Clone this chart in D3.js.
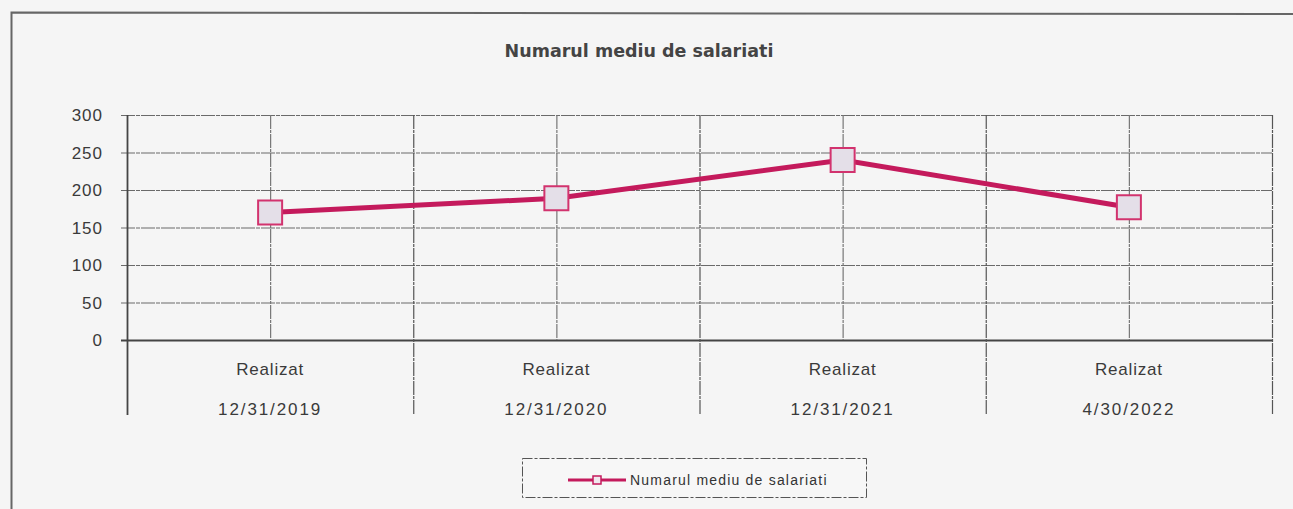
<!DOCTYPE html>
<html>
<head>
<meta charset="utf-8">
<script src="https://cdn.jsdelivr.net/npm/d3@7"></script>
<style>
body { margin: 0; background: #f5f5f5; }
svg { display: block; font-family: "Liberation Sans", Arial, sans-serif; }
</style>
</head>
<body>
<svg id="mainsvg" width="1293" height="509"></svg>
<script>
var categories = ['12/31/2019', '12/31/2020', '12/31/2021', '4/30/2022'];
var catPrefix = 'Realizat';
var values = [170, 189, 240, 177];
var yTicks = [0, 50, 100, 150, 200, 250, 300];
var chartTitle = 'Numarul mediu de salariati';
var seriesName = 'Numarul mediu de salariati';

var svg = d3.select('#mainsvg');
// 'top' is reserved on window, so use plot* names
var plotLeft = 127, plotRight = 1272, plotTop = 115, plotBottom = 340;

// outer frame (scanned, only top and left visible)
svg.append('path')
	.attr('d', 'M11.5,509 L11.5,12.5 L1293,14')
	.attr('stroke', '#666').attr('stroke-width', 2).attr('fill', 'none');

var x = d3.scaleBand().domain(categories).range([plotLeft, plotRight]).padding(0);
var y = d3.scaleLinear().domain([0, 300]).range([plotBottom, plotTop]);

// horizontal gridlines
svg.append('g').selectAll('line')
	.data(yTicks)
	.enter()
	.append('line')
	.attr('x1', plotLeft - 6).attr('x2', plotRight)
	.attr('y1', function(d) {return y(d) + 0.5;})
	.attr('y2', function(d) {return y(d) + 0.5;})
	.attr('stroke', function(d) {return d == 0 ? '#444' : '#6a6a6a';})
	.attr('stroke-width', function(d) {return d == 0 ? 1.8 : 1.2;})
	.attr('stroke-dasharray', function(d) {return d == 0 ? null : '14,1,4,1';});

// vertical gridlines at boundaries and centers
var vx = [];
categories.forEach(function(c, i) {
	vx.push({x: x(c), edge: true});
	vx.push({x: x(c) + x.bandwidth() / 2, edge: false});
});
vx.push({x: plotRight, edge: true});
svg.append('g').selectAll('line')
	.data(vx)
	.enter()
	.append('line')
	.attr('x1', function(d) {return d.x + 0.5;})
	.attr('x2', function(d) {return d.x + 0.5;})
	.attr('y1', plotTop)
	.attr('y2', function(d) {return d.edge ? 415 : plotBottom;})
	.attr('stroke', function(d) {return d.x == plotLeft ? '#444' : (d.edge ? '#555' : '#777');})
	.attr('stroke-width', function(d) {return d.x == plotLeft ? 1.8 : 1.2;})
	.attr('stroke-dasharray', function(d) {return d.x == plotLeft ? null : '14,1,3,1';});

// y axis labels
svg.append('g').selectAll('text')
	.data(yTicks)
	.enter()
	.append('text')
	.attr('x', 103)
	.attr('y', function(d) {return y(d) + 6;})
	.attr('text-anchor', 'end')
	.attr('font-size', 17)
	.attr('letter-spacing', 1)
	.attr('fill', '#3a3a3a')
	.text(function(d) {return d;});

// category labels
var cat = svg.append('g').selectAll('g')
	.data(categories)
	.enter()
	.append('g')
	.attr('transform', function(d) {return 'translate(' + (x(d) + x.bandwidth() / 2) + ',0)';});
cat.append('text')
	.attr('y', 375)
	.attr('text-anchor', 'middle')
	.attr('font-size', 17)
	.attr('letter-spacing', 0.8)
	.attr('fill', '#3a3a3a')
	.text(catPrefix);
cat.append('text')
	.attr('y', 415)
	.attr('text-anchor', 'middle')
	.attr('font-size', 17)
	.attr('letter-spacing', 1.9)
	.attr('fill', '#3a3a3a')
	.text(function(d) {return d;});

// title
svg.append('text')
	.attr('x', 639).attr('y', 57)
	.attr('text-anchor', 'middle')
	.attr('font-family', '"DejaVu Sans", sans-serif')
	.attr('font-size', 17.5)
	.attr('font-weight', 'bold')
	.attr('fill', '#444')
	.text(chartTitle);

// series line
var line = d3.line()
	.x(function(d, i) {return x(categories[i]) + x.bandwidth() / 2;})
	.y(function(d) {return y(d);});
svg.append('path')
	.datum(values)
	.attr('d', line)
	.attr('stroke', '#c41a5c')
	.attr('stroke-width', 5)
	.attr('fill', 'none');

svg.append('g').selectAll('rect')
	.data(values)
	.enter()
	.append('rect')
	.attr('x', function(d, i) {return x(categories[i]) + x.bandwidth() / 2 - 12;})
	.attr('y', function(d) {return y(d) - 12;})
	.attr('width', 24).attr('height', 24)
	.attr('fill', '#e4dfe8')
	.attr('stroke', '#d2336e')
	.attr('stroke-width', 2);

// legend
var lg = svg.append('g').attr('transform', 'translate(522,458)');
lg.append('rect')
	.attr('x', 0.5).attr('y', 0.5)
	.attr('width', 344).attr('height', 39)
	.attr('fill', '#f7f7f7')
	.attr('stroke', '#555')
	.attr('stroke-dasharray', '10,2,3,2');
lg.append('line')
	.attr('x1', 46).attr('x2', 104).attr('y1', 22).attr('y2', 22)
	.attr('stroke', '#c41a5c').attr('stroke-width', 3);
lg.append('rect')
	.attr('x', 71).attr('y', 18).attr('width', 8).attr('height', 8)
	.attr('fill', '#f0e8ee').attr('stroke', '#c41a5c').attr('stroke-width', 1.5);
lg.append('text')
	.attr('x', 108).attr('y', 27)
	.attr('font-size', 14)
	.attr('letter-spacing', 1.2)
	.attr('fill', '#333')
	.text(seriesName);
</script>
</body>
</html>
